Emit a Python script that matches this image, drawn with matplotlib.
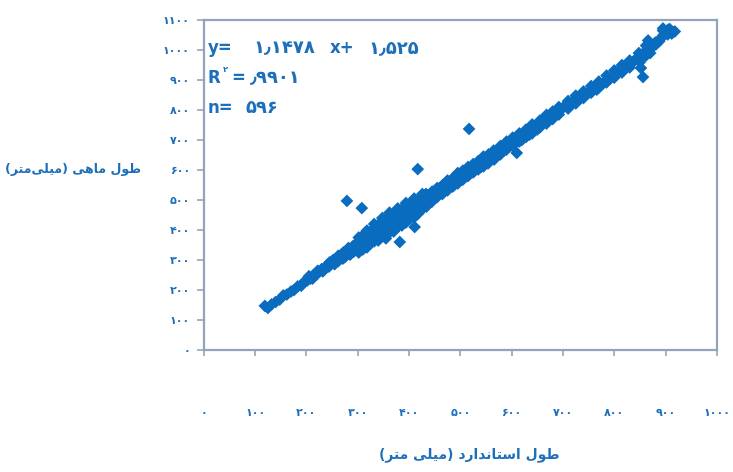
import matplotlib
matplotlib.use("Agg")
import matplotlib.pyplot as plt

# طول استاندارد و طول ماهی (میلی‌متر) - نقاط مرکز باند
core_x = [
    119, 125, 132, 140, 148, 155, 162, 170, 176, 183, 190, 196, 202, 208, 214,
    220, 226, 230, 235, 240, 244, 248, 252, 255, 258, 262, 265, 268, 270, 272,
    275, 278, 280, 282, 285, 288, 290, 292, 295, 297, 300, 302, 305, 307, 310,
    312, 315, 318, 320, 322, 325, 327, 330, 332, 335, 337, 340, 342, 345, 347,
    350, 352, 355, 357, 360, 362, 365, 367, 370, 372, 375, 377, 380, 382, 385,
    387, 390, 392, 395, 397, 400, 402, 405, 407, 410, 412, 415, 418, 420, 423,
    425, 428, 430, 433, 436, 440, 443, 446, 450, 453, 456, 460, 463, 466, 470,
    473, 476, 480, 484, 488, 492, 495, 500, 504, 508, 512, 516, 520, 525, 528,
    532, 536, 540, 545, 550, 554, 558, 562, 566, 570, 575, 580, 585, 590, 595,
    600, 605, 610, 615, 620, 625, 630, 635, 640, 645, 650, 655, 660, 666, 672,
    678, 684, 690, 695, 700, 706, 712, 718, 724, 730, 736, 742, 748, 755, 760,
    766, 772, 778, 785, 792, 798, 805, 812, 820, 826, 832, 838, 845, 850, 855,
    860, 865, 870, 876, 882, 888, 892, 896, 900, 904, 908, 912, 918,
]
core_y = [
    147, 140, 152, 160, 168, 182, 185, 195, 200, 212, 214, 228, 232, 238, 250,
    252, 262, 270, 268, 282, 278, 290, 300, 288, 304, 296, 312, 318, 305, 325,
    310, 330, 320, 340, 318, 335, 345, 328, 350, 338, 360, 340, 350, 365, 372,
    350, 362, 380, 368, 390, 372, 385, 395, 378, 398, 410, 392, 405, 420, 398,
    412, 425, 405, 418, 432, 415, 428, 440, 420, 435, 445, 430, 450, 438, 455,
    470, 445, 460, 472, 455, 465, 480, 470, 490, 475, 465, 492, 480, 500, 488,
    510, 495, 505, 520, 498, 515, 505, 525, 518, 535, 522, 540, 528, 550, 545,
    560, 540, 555, 568, 550, 575, 560, 582, 570, 595, 580, 600, 590, 610, 598,
    615, 625, 610, 628, 640, 622, 645, 650, 635, 660, 655, 675, 665, 690, 680,
    700, 692, 705, 712, 700, 722, 728, 718, 740, 745, 735, 755, 762, 768, 778,
    775, 790, 792, 800, 808, 815, 810, 825, 830, 838, 842, 850, 855, 860, 872,
    868, 882, 888, 900, 905, 912, 925, 930, 942, 948, 955, 962, 975, 960, 985,
    995, 1002, 990, 1012, 1020, 1030, 1042, 1050, 1060, 1052, 1070, 1055, 1062,
]

# نقاط لبه‌های بالا و پایین باند
edge_x = [
    205, 212, 222, 232, 245, 255, 262, 272, 282, 292, 286, 276,
    302, 302, 310, 310, 318, 318, 325, 325, 332, 332, 340, 340, 348, 348,
    355, 355, 362, 362, 370, 370, 378, 378, 386, 386, 394, 394, 402, 402,
    410, 410, 418, 418, 426, 426, 434, 434,
    305, 320, 335, 350, 365, 380, 395, 405, 420, 430,
    445, 445, 455, 455, 465, 465, 475, 475, 485, 485, 495, 495, 505, 505,
    515, 515, 525, 525, 535, 535, 545, 545, 555, 555,
    565, 565, 578, 578, 590, 590, 602, 602, 615, 615, 628, 628, 640, 640,
    655, 655, 668, 668, 680, 680, 692, 692,
    710, 710, 725, 725, 740, 740, 755, 755, 770, 770, 785, 785, 800, 800,
    815, 815, 830, 830, 848, 848, 852, 862, 862, 866, 880, 895, 895, 905, 914,
]
edge_y = [
    246, 238, 264, 262, 292, 286, 314, 306, 338, 328, 320, 327,
    375, 325, 382, 335, 398, 342, 395, 355, 420, 362, 418, 365, 440, 380,
    436, 372, 458, 392, 450, 395, 472, 410, 468, 415, 490, 425, 485, 438,
    505, 442, 500, 455, 520, 470, 518, 478,
    365, 388, 372, 425, 400, 455, 438, 492, 470, 510,
    528, 495, 540, 510, 548, 520, 565, 532, 572, 545, 590, 555, 598, 568,
    610, 580, 620, 592, 630, 602, 645, 612, 652, 625,
    665, 638, 680, 652, 695, 668, 708, 680, 722, 695, 735, 710, 752, 722,
    765, 742, 784, 755, 795, 770, 810, 785,
    830, 805, 848, 822, 862, 840, 880, 858, 895, 875, 915, 892, 932, 908,
    950, 925, 965, 942, 990, 965, 940, 1015, 982, 1032, 1025, 1065, 1072,
    1068, 1060,
]

# نقاط دورافتاده
outlier_x = [279, 308, 411, 382, 417, 517, 610, 856]
outlier_y = [497, 473, 410, 360, 603, 737, 657, 910]

x_ticks = list(range(0, 1001, 100))
y_ticks = list(range(0, 1101, 100))

slope_txt = "۱٫۱۴۷۸"
icept_txt = "۱٫۵۲۵"
r2_txt = "٫۹۹۰۱"
n_txt = "۵۹۶"
x_title = "طول استاندارد (میلی متر)"
y_title = "طول ماهی (میلی\u200cمتر)"

BLUE_TXT = "#1d6fba"
BLUE_PT = "#0a6cbf"
AXIS_COL = "#93a3bc"

# شکل‌های نمایشی حروف: (تنها، پایانی، آغازی، میانی)
FORMS = {
    "ا": ("\uFE8D", "\uFE8E", None, None),
    "د": ("\uFEA9", "\uFEAA", None, None),
    "ر": ("\uFEAD", "\uFEAE", None, None),
    "و": ("\uFEED", "\uFEEE", None, None),
    "ت": ("\uFE95", "\uFE96", "\uFE97", "\uFE98"),
    "س": ("\uFEB1", "\uFEB2", "\uFEB3", "\uFEB4"),
    "ط": ("\uFEC1", "\uFEC2", "\uFEC3", "\uFEC4"),
    "ل": ("\uFEDD", "\uFEDE", "\uFEDF", "\uFEE0"),
    "م": ("\uFEE1", "\uFEE2", "\uFEE3", "\uFEE4"),
    "ن": ("\uFEE5", "\uFEE6", "\uFEE7", "\uFEE8"),
    "ه": ("\uFEE9", "\uFEEA", "\uFEEB", "\uFEEC"),
    "ی": ("\uFBFC", "\uFBFD", "\uFBFE", "\uFBFF"),
}


def shape_fa(text):
    """اتصال حروف و برگرداندن ترتیب برای نمایش چپ‌به‌راست."""
    out = []
    n = len(text)
    for i, ch in enumerate(text):
        if ch == "\u200c":
            continue
        if ch not in FORMS:
            out.append({"(": ")", ")": "("}.get(ch, ch))
            continue
        prev = text[i - 1] if i > 0 else ""
        nxt = text[i + 1] if i + 1 < n else ""
        join_prev = prev in FORMS and FORMS[prev][2] is not None
        join_next = FORMS[ch][2] is not None and nxt in FORMS
        iso, fin, ini, med = FORMS[ch]
        if join_prev and join_next:
            out.append(med)
        elif join_prev:
            out.append(fin)
        elif join_next:
            out.append(ini)
        else:
            out.append(iso)
    return "".join(reversed(out))


def fa_digits(v):
    return str(v).translate(str.maketrans("0123456789", "۰۱۲۳۴۵۶۷۸۹"))


plt.rcParams["font.family"] = ["DejaVu Sans"]

fig = plt.figure(figsize=(7.33, 4.72), dpi=100)
ax = fig.add_axes([0.278, 0.2585, 0.700, 0.699])

for xs, ys in [(core_x, core_y), (edge_x, edge_y), (outlier_x, outlier_y)]:
    ax.scatter(xs, ys, marker="D", s=42, color=BLUE_PT, edgecolors="none",
               zorder=3)

ax.set_xlim(0, 1000)
ax.set_ylim(0, 1100)
ax.set_xticks(x_ticks)
ax.set_yticks(y_ticks)
ax.set_xticklabels([fa_digits(v) for v in x_ticks])
ax.set_yticklabels([fa_digits(v) for v in y_ticks])

for sp in ax.spines.values():
    sp.set_color(AXIS_COL)
    sp.set_linewidth(1.6)

ax.tick_params(axis="y", direction="out", length=5, width=1.2, color=AXIS_COL,
               pad=5, labelsize=8, labelcolor=BLUE_TXT)
ax.tick_params(axis="x", direction="out", length=4, width=1.2, color=AXIS_COL,
               pad=38, labelsize=8, labelcolor=BLUE_TXT)
for lab in ax.get_xticklabels() + ax.get_yticklabels():
    lab.set_fontweight("bold")


def eq_part(s, anchor, dx, dy=0, size=12):
    ax.annotate(s, xy=anchor, xycoords="axes fraction", xytext=(dx, dy),
                textcoords="offset points", color=BLUE_TXT, fontsize=size,
                fontweight="bold", va="center", ha="left")


# معادله رگرسیون، ضریب تعیین و تعداد نمونه
row1, row2, row3 = (0.008, 0.915), (0.008, 0.824), (0.008, 0.733)
eq_part("y=", row1, 0)
eq_part(slope_txt, row1, 33, size=13)
eq_part("x+", row1, 88)
eq_part(icept_txt, row1, 116, size=13)
eq_part("R", row2, 0)
eq_part("۲", row2, 11, 6, size=6)
eq_part("=", row2, 17)
eq_part(r2_txt, row2, 30, size=13)
eq_part("n=", row3, 0)
eq_part(n_txt, row3, 27, size=13)

fig.text(0.64, 0.036, shape_fa(x_title), color=BLUE_TXT, fontsize=10,
         fontweight="bold", ha="center", va="center")
fig.text(0.10, 0.64, shape_fa(y_title), color=BLUE_TXT, fontsize=9,
         fontweight="bold", ha="center", va="center")

fig.savefig("out.png", dpi=100, facecolor="white")
